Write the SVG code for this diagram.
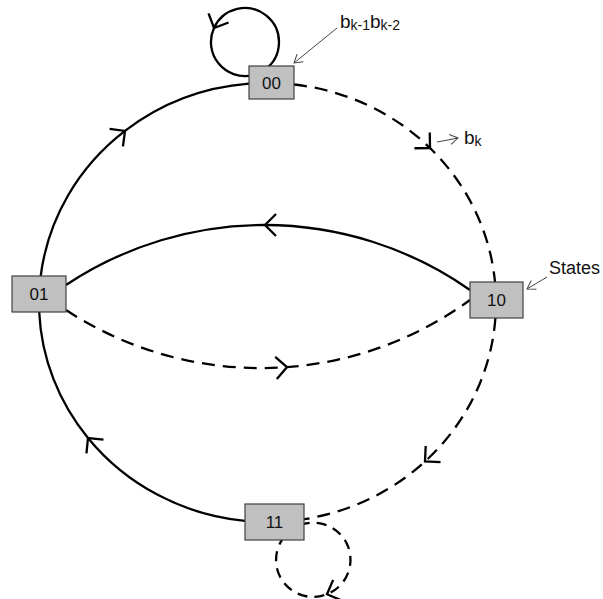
<svg xmlns="http://www.w3.org/2000/svg" width="603" height="599" viewBox="0 0 603 599">
<style>
.edge{fill:none;stroke:#000;stroke-width:2.3}
.dash{stroke-dasharray:13 8}
.dashs{stroke-dasharray:10 7}
.box{fill:#c0c0c0;stroke:#404040;stroke-width:1.2}
.lbl{font-family:"Liberation Sans",Arial,sans-serif;font-size:17px;fill:#111;text-anchor:middle}
.note{font-family:"Liberation Sans",Arial,sans-serif;font-size:18px;fill:#111}
.big{font-size:19px}
.sub{font-size:14px}
.ptr{fill:none;stroke:#444;stroke-width:1}
</style>
<defs>
<marker id="chev" markerUnits="userSpaceOnUse" viewBox="-16 -16 32 32" markerWidth="32" markerHeight="32" refX="0" refY="0" orient="auto" overflow="visible">
<path d="M-11,-11 L0,0 L-11,11" fill="none" stroke="#000" stroke-width="2.3" stroke-dasharray="none"/>
</marker>
<marker id="small" markerUnits="userSpaceOnUse" viewBox="-10 -10 20 20" markerWidth="20" markerHeight="20" refX="0" refY="0" orient="auto" overflow="visible">
<path d="M-8,-5 L0,0 L-8,5" fill="none" stroke="#444" stroke-width="1"/>
</marker>
</defs>
<g id="connectors">
<path class="edge" d="M40.7,276 A228.5,219.5 0 0,1 125,130.9 A228.5,219.5 0 0,1 249,83.7" marker-mid="url(#chev)"/>
<path class="edge dash" d="M294,84.5 A228.5,219.5 0 0,1 430,148 A228.5,219.5 0 0,1 495,282" marker-mid="url(#chev)"/>
<path class="edge dash" d="M495.4,318 A228.5,219.5 0 0,1 425,461.5 A228.5,219.5 0 0,1 304,519.2" marker-mid="url(#chev)"/>
<path class="edge" d="M245,520.9 A228.5,219.5 0 0,1 88,438 A228.5,219.5 0 0,1 39.2,312" marker-mid="url(#chev)"/>
<path class="edge" d="M470,290 A358,358 0 0,0 265,225 A358,358 0 0,0 66,285" marker-mid="url(#chev)"/>
<path class="edge dash" d="M66,310 A355,355 0 0,0 287,367.1 A355,355 0 0,0 470,300" marker-mid="url(#chev)"/>
<path class="edge" d="M265,69.5 A34,34 0 1,0 214,28 A34,34 0 0,0 252,75.3" marker-mid="url(#chev)"/>
<path class="edge dashs" d="M300,525.3 A37,37 0 0,1 327,594.2 A37,37 0 0,1 284,537" marker-mid="url(#chev)"/>
<path class="ptr" d="M337,28 L294,63" marker-end="url(#small)"/>
<path class="ptr" d="M437,142 L458,138" marker-end="url(#small)"/>
<path class="ptr" d="M547,277 L527,289" marker-end="url(#small)"/>
</g>
<g id="node-00"><rect class="box" x="249" y="66" width="45" height="33"/><text class="lbl" x="271.5" y="89">00</text></g>
<g id="node-10"><rect class="box" x="470" y="282" width="53" height="36"/><text class="lbl" x="496.5" y="306">10</text></g>
<g id="node-01"><rect class="box" x="12" y="276" width="54" height="36"/><text class="lbl" x="39" y="300">01</text></g>
<g id="node-11"><rect class="box" x="245" y="504" width="59" height="36"/><text class="lbl" x="274.5" y="528">11</text></g>
<g id="labels">
<text class="note big" x="340" y="28">b<tspan class="sub" dy="2">k-1</tspan><tspan dy="-2">b</tspan><tspan class="sub" dy="2">k-2</tspan></text>
<text class="note big" x="464" y="144">b<tspan class="sub" dy="2">k</tspan></text>
<text class="note" x="549" y="274">States</text>
</g>
</svg>
